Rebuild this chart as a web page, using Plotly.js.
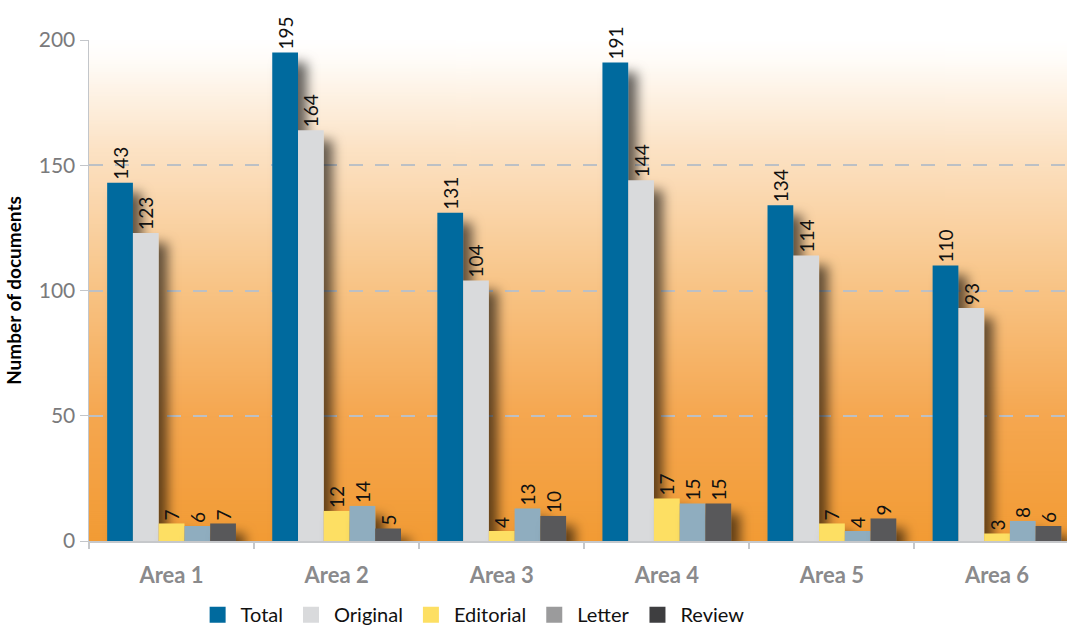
<!DOCTYPE html>
<html>
<head>
<meta charset="utf-8">
<script src="https://cdn.plot.ly/plotly-3.0.1.min.js"></script>
<style>
html,body{margin:0;padding:0;background:#fff;}
#chart{width:1067px;height:627px;}
</style>
</head>
<body>
<div id="chart"></div>
<script>
// ---- data ----
const areas = ["Area 1", "Area 2", "Area 3", "Area 4", "Area 5", "Area 6"];
const seriesNames = ["Total", "Original", "Editorial", "Letter", "Review"];
const total     = [143, 195, 131, 191, 134, 110];
const original  = [123, 164, 104, 144, 114, 93];
const editorial = [7, 12, 4, 17, 7, 3];
const letter    = [6, 14, 13, 15, 4, 8];
const review    = [7, 5, 10, 15, 9, 6];
const yTicks = [0, 50, 100, 150, 200];

// ---- styles ----
const barColors    = ["#006a9e", "#d9dadc", "#fddf63", "#8fadbf", "#58585a"];
const legendColors = ["#006a9e", "#d9dadc", "#fddf63", "#9b9b9c", "#3e3e40"];
const FONT = "Lato, 'Open Sans', sans-serif";

const values = [total, original, editorial, letter, review];

const traces = values.map((v, i) => ({
  type: "bar",
  x: areas,
  y: v,
  name: seriesNames[i],
  showlegend: false,
  marker: {color: barColors[i], line: {width: 0}},
  text: v.map(String),
  texttemplate: "%{text}",
  textposition: "outside",
  textangle: -90,
  constraintext: "none",
  cliponaxis: false,
  outsidetextfont: {family: FONT, size: 19, color: "#111"},
  hoverinfo: "skip"
}));

const legendTraces = seriesNames.map((n, i) => ({
  type: "scatter",
  mode: "markers",
  x: [null],
  y: [null],
  name: n,
  showlegend: true,
  marker: {symbol: "square", size: 16, color: legendColors[i]},
  hoverinfo: "skip"
}));

// gradient background image
function gradientURL() {
  const c = document.createElement("canvas");
  c.width = 4; c.height = 500;
  const g = c.getContext("2d");
  const gr = g.createLinearGradient(0, 0, 0, 500);
  gr.addColorStop(0.00, "#ffffff");
  gr.addColorStop(0.04, "#fffcf8");
  gr.addColorStop(0.22, "#fce2c4");
  gr.addColorStop(0.50, "#f8c384");
  gr.addColorStop(0.75, "#f5a750");
  gr.addColorStop(1.00, "#f29b34");
  g.fillStyle = gr;
  g.fillRect(0, 0, 4, 500);
  return c.toDataURL("image/png");
}

const layout = {
  width: 1067,
  height: 627,
  margin: {l: 89, r: 0, t: 40, b: 86, autoexpand: false},
  paper_bgcolor: "#ffffff",
  plot_bgcolor: "rgba(0,0,0,0)",
  barmode: "group",
  bargap: 0.22,
  bargroupgap: 0,
  font: {family: FONT},
  images: [{
    source: gradientURL(),
    xref: "paper", yref: "paper",
    x: 0, y: 1, sizex: 1, sizey: 1,
    xanchor: "left", yanchor: "top",
    sizing: "stretch",
    layer: "below"
  }],
  xaxis: {
    type: "category",
    range: [-0.5, 5.424],
    showline: true,
    linecolor: "#c6c8cb",
    linewidth: 2,
    ticks: "outside",
    tickson: "boundaries",
    ticklen: 6,
    tickcolor: "#c6c8cb",
    tickwidth: 2,
    ticklabelstandoff: 14,
    showgrid: false,
    tickfont: {family: FONT, size: 22, color: "#8a8a8c", weight: "bold"},
    automargin: false,
    fixedrange: true
  },
  yaxis: {
    range: [0, 200],
    tickvals: yTicks,
    ticktext: yTicks.map(String),
    showline: true,
    linecolor: "#c3c6ca",
    linewidth: 1.5,
    ticks: "outside",
    ticklen: 8,
    tickcolor: "#c3c6ca",
    tickfont: {family: FONT, size: 21, color: "#7a7a7c"},
    showgrid: true,
    gridcolor: "#bcc0c5",
    gridwidth: 2,
    griddash: "14px,12px",
    zeroline: false,
    automargin: false,
    title: {
      text: "Number of documents",
      font: {family: FONT, size: 19, color: "#000", weight: "bold"},
      standoff: 12
    },
    fixedrange: true
  },
  legend: {
    orientation: "h",
    x: 0.108,
    xanchor: "left",
    y: -0.147,
    yanchor: "middle",
    itemwidth: 36,
    font: {family: FONT, size: 20, color: "#111"},
    bgcolor: "rgba(0,0,0,0)",
    itemclick: false
  }
};

Plotly.newPlot("chart", traces.concat(legendTraces), layout, {displayModeBar: false, staticPlot: true}).then(gd => {
  const svg = gd.querySelector("svg.main-svg");
  const ns = "http://www.w3.org/2000/svg";
  let defs = svg.querySelector("defs");
  const f = document.createElementNS(ns, "filter");
  f.setAttribute("id", "barshadow");
  f.setAttribute("x", "-50%"); f.setAttribute("y", "-20%");
  f.setAttribute("width", "250%"); f.setAttribute("height", "150%");
  const ds = document.createElementNS(ns, "feDropShadow");
  ds.setAttribute("dx", "9"); ds.setAttribute("dy", "10");
  ds.setAttribute("stdDeviation", "6");
  ds.setAttribute("flood-color", "#000");
  ds.setAttribute("flood-opacity", "0.6");
  f.appendChild(ds);
  defs.appendChild(f);
  gd.querySelectorAll(".barlayer .point path").forEach(p => p.setAttribute("filter", "url(#barshadow)"));
});
</script>
</body>
</html>
